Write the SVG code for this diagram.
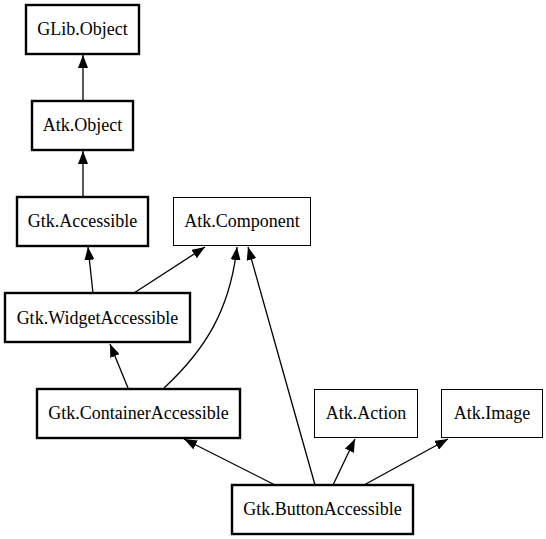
<svg xmlns="http://www.w3.org/2000/svg" width="546" height="539" viewBox="0 0 546 539">
<style>
.n rect{fill:#fff;stroke:#000}
.thick rect{stroke-width:2.4}
.thin rect{stroke-width:1}
.n text{font-family:"Liberation Serif","Times New Roman",serif;font-size:18px;text-anchor:middle;fill:#000}
.e path{fill:none;stroke:#000;stroke-width:1.3;marker-end:url(#ah)}
</style>
<defs>
<marker id="ah" markerUnits="userSpaceOnUse" markerWidth="13" markerHeight="10" viewBox="0 0 13 10" refX="13" refY="5" orient="auto">
<path d="M0,0 L13,5 L0,10 Z" fill="#000"/>
</marker>
</defs>
<rect width="546" height="539" fill="#fff"/>
<g class="e">
<path d="M83,101 L83,55"/>
<path d="M83,197 L83,151"/>
<path d="M93,293 L88,247"/>
<path d="M134,293 L205,247"/>
<path d="M128,388 L110,344"/>
<path d="M164,388 C205,350 230,310 237,247"/>
<path d="M315,485 L248,247"/>
<path d="M275,485 L184,439"/>
<path d="M333,485 L355,439"/>
<path d="M364,485 L448,439"/>
</g>
<g id="glib_object" class="n thick"><rect x="26" y="5" width="113" height="49"/><text x="82.5" y="35">GLib.Object</text></g>
<g id="atk_object" class="n thick"><rect x="32" y="101" width="101" height="49"/><text x="82.5" y="131">Atk.Object</text></g>
<g id="gtk_accessible" class="n thick"><rect x="17" y="197" width="131" height="49"/><text x="82.5" y="227">Gtk.Accessible</text></g>
<g id="atk_component" class="n thin"><rect x="173.5" y="197.5" width="137" height="48"/><text x="242" y="227">Atk.Component</text></g>
<g id="gtk_widgetaccessible" class="n thick"><rect x="5" y="293" width="185" height="49"/><text x="97.5" y="324">Gtk.WidgetAccessible</text></g>
<g id="gtk_containeraccessible" class="n thick"><rect x="37" y="389" width="203" height="49"/><text x="138.5" y="419">Gtk.ContainerAccessible</text></g>
<g id="atk_action" class="n thin"><rect x="314.5" y="389.5" width="103" height="48"/><text x="366" y="419">Atk.Action</text></g>
<g id="atk_image" class="n thin"><rect x="441.5" y="389.5" width="101" height="48"/><text x="492" y="419">Atk.Image</text></g>
<g id="gtk_buttonaccessible" class="n thick"><rect x="232" y="485" width="181" height="49"/><text x="322.5" y="515">Gtk.ButtonAccessible</text></g>
</svg>
